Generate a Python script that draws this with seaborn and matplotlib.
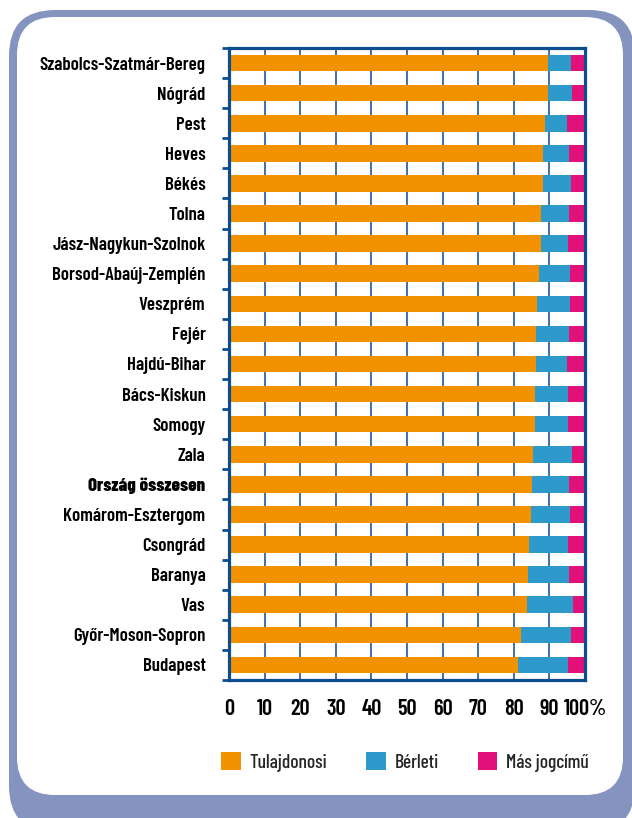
import matplotlib
matplotlib.use("Agg")
import matplotlib.pyplot as plt
import seaborn as sns
import numpy as np
import pandas as pd
from matplotlib.patches import FancyBboxPatch, Patch
from matplotlib.transforms import IdentityTransform

counties = ["Szabolcs-Szatmár-Bereg", "Nógrád", "Pest", "Heves", "Békés", "Tolna",
            "Jász-Nagykun-Szolnok", "Borsod-Abaúj-Zemplén", "Veszprém", "Fejér",
            "Hajdú-Bihar", "Bács-Kiskun", "Somogy", "Zala", "Ország összesen",
            "Komárom-Esztergom", "Csongrád", "Baranya", "Vas", "Győr-Moson-Sopron",
            "Budapest"]
tulajdonosi = [89.7, 89.5, 88.8, 88.3, 88.2, 87.7, 87.6, 87.1, 86.6, 86.3, 86.3,
               86.0, 85.9, 85.4, 85.0, 84.7, 84.4, 84.1, 83.6, 82.0, 81.3]
berleti = [6.4, 6.9, 6.1, 7.2, 7.8, 7.9, 7.7, 8.7, 9.2, 9.2, 8.6,
           9.2, 9.3, 10.9, 10.6, 11.0, 10.8, 11.5, 13.1, 14.2, 14.0]
mas_jogcimu = [3.9, 3.6, 5.1, 4.5, 4.0, 4.4, 4.7, 4.2, 4.2, 4.5, 5.1,
               4.8, 4.8, 3.7, 4.4, 4.3, 4.8, 4.4, 3.3, 3.8, 4.7]
series_names = ["Tulajdonosi", "Bérleti", "Más jogcímű"]
xticks = [0, 10, 20, 30, 40, 50, 60, 70, 80, 90, 100]
xtick_labels = ["0", "10", "20", "30", "40", "50", "60", "70", "80", "90", "100%"]

ORANGE = "#F39200"
BLUE = "#2E9ACB"
MAGENTA = "#E2117A"
NAVY = "#0D4C8E"
FRAME = "#8593BF"

df = pd.DataFrame({"county": counties, "tul": tulajdonosi,
                   "ber": berleti, "mas": mas_jogcimu})
df["c1"] = df["tul"]
df["c2"] = df["tul"] + df["ber"]
df["c3"] = df["c2"] + df["mas"]

sns.set_theme(style="white")
plt.rcParams["font.family"] = ["Barlow Condensed", "DejaVu Sans"]
plt.rcParams["font.weight"] = 600

fig = plt.figure(figsize=(6.32, 8.18), dpi=100, facecolor="white")

# decorative rounded frame (pixel coordinates)
outer = FancyBboxPatch((9, -14), 626, 822, boxstyle="round,pad=0,rounding_size=46",
                       transform=IdentityTransform(), facecolor=FRAME, edgecolor="none", zorder=-3)
inner = FancyBboxPatch((17, 23), 606, 778, boxstyle="round,pad=0,rounding_size=38",
                       transform=IdentityTransform(), facecolor="white", edgecolor="none", zorder=-2)
fig.add_artist(outer)
fig.add_artist(inner)

ax = fig.add_axes([229/632, 1-680/818, (585-229)/632, (680-48)/818])
ax.set_facecolor("white")
ax.set_zorder(1)

for col, color in [("c3", MAGENTA), ("c2", BLUE), ("c1", ORANGE)]:
    sns.barplot(data=df, x=col, y="county", orient="h", color=color, width=0.55,
                saturation=1, edgecolor="none", linewidth=0, ax=ax, zorder=3)

ax.set_xlim(0, 100)
ax.set_ylim(20.5, -0.5)
ax.set_xticks(xticks)
ax.set_xticklabels(xtick_labels, fontsize=16, fontweight=600)
ax.set_xlabel("")
ax.set_ylabel("")
for x in xticks[1:-1]:
    ax.axvline(x, color=NAVY, lw=1.1, zorder=2)

ax.set_yticks(range(len(counties)))
ax.set_yticklabels(counties, fontsize=13.6, fontweight=600)
ax.set_yticks(np.arange(-0.5, len(counties), 1.0), minor=True)
ax.tick_params(axis="y", which="major", length=0, pad=17, labelcolor="black")
ax.tick_params(axis="y", which="minor", length=5, width=2, color=NAVY, left=True, direction="out")
ax.tick_params(axis="x", length=0, pad=14, labelcolor="black")
for lab in ax.get_yticklabels():
    if lab.get_text() == "Ország összesen":
        lab.set_fontweight(800)

for s in ax.spines.values():
    s.set_color(NAVY)
    s.set_linewidth(2.3)
    s.set_zorder(5)

handles = [Patch(facecolor=c, edgecolor="none") for c in (ORANGE, BLUE, MAGENTA)]
fig.legend(handles, series_names, loc="center", bbox_to_anchor=(405/632, 1-762/818),
           ncol=3, frameon=False, prop={"size": 14, "weight": 500},
           handlelength=1.0, handleheight=1.0, handletextpad=0.45, columnspacing=2.0)

fig.savefig("out.png", dpi=100, facecolor="white")
